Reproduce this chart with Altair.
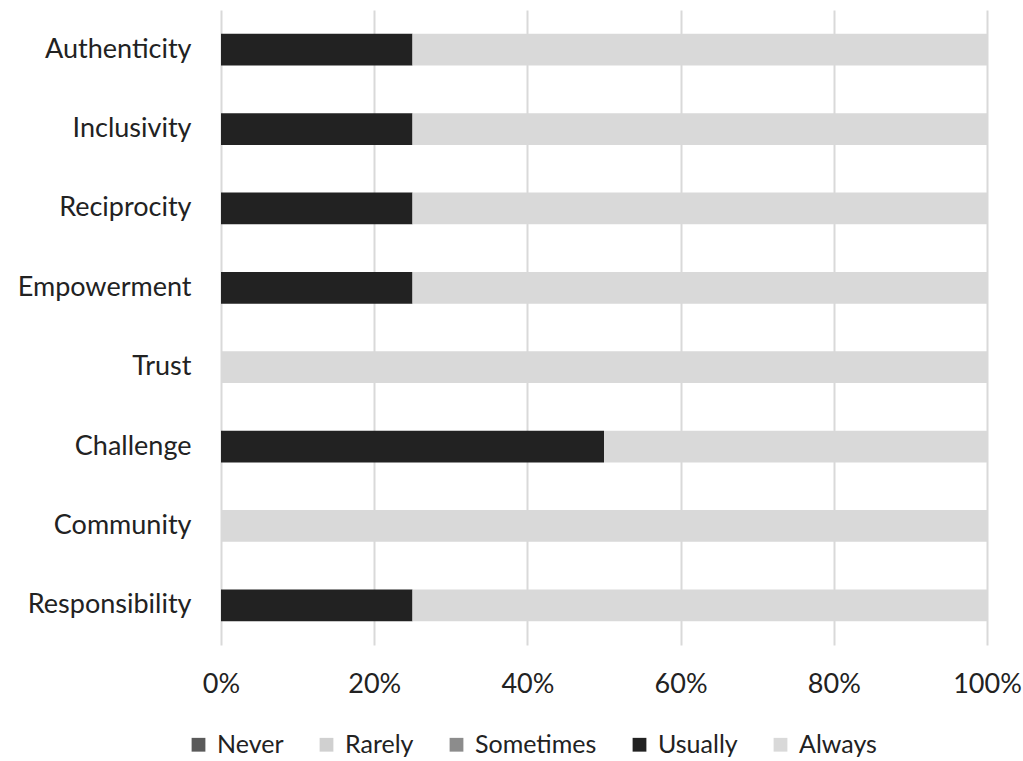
import altair as alt
import pandas as pd

categories = ["Authenticity", "Inclusivity", "Reciprocity", "Empowerment",
              "Trust", "Challenge", "Community", "Responsibility"]
levels = ["Never", "Rarely", "Sometimes", "Usually", "Always"]
never = [0, 0, 0, 0, 0, 0, 0, 0]
rarely = [0, 0, 0, 0, 0, 0, 0, 0]
sometimes = [0, 0, 0, 0, 0, 0, 0, 0]
usually = [0.25, 0.25, 0.25, 0.25, 0.0, 0.50, 0.0, 0.25]
always = [0.75, 0.75, 0.75, 0.75, 1.0, 0.50, 1.0, 0.75]
colors = ["#5a5a5a", "#d0d0d0", "#8c8c8c", "#222222", "#d9d9d9"]

series = [never, rarely, sometimes, usually, always]
rows = []
for li, (lvl, vals) in enumerate(zip(levels, series)):
    for c, v in zip(categories, vals):
        rows.append({"category": c, "level": lvl, "order": li, "value": v})
df = pd.DataFrame(rows)

FONT = "Lato"
FS = 27

chart = alt.Chart(df).mark_bar().encode(
    y=alt.Y("category:N", sort=categories, title=None,
            scale=alt.Scale(paddingInner=0.6, paddingOuter=0.3),
            axis=alt.Axis(ticks=False, domain=False, grid=False,
                          labelFontSize=FS, labelFont=FONT, labelColor="#222222",
                          labelPadding=30)),
    x=alt.X("value:Q", stack="zero", title=None,
            scale=alt.Scale(domain=[0, 1], nice=False),
            axis=alt.Axis(format=".0%", values=[0, 0.2, 0.4, 0.6, 0.8, 1.0],
                          ticks=False, domain=False, grid=True, labelFlush=False,
                          gridColor="#d9d9d9", gridWidth=2,
                          labelFontSize=FS, labelFont=FONT, labelColor="#222222",
                          labelPadding=26)),
    color=alt.Color("level:N", sort=levels,
                    scale=alt.Scale(domain=levels, range=colors),
                    legend=alt.Legend(title=None, orient="none", direction="horizontal",
                                      legendX=-35, legendY=722,
                                      symbolType="square", symbolSize=190,
                                      symbolStrokeWidth=0,
                                      labelFont=FONT, labelFontSize=25,
                                      labelColor="#222222", columnPadding=30,
                                      labelOffset=6)),
    order=alt.Order("order:Q"),
).properties(
    width=766, height=635,
    autosize=alt.AutoSizeParams(type="none"),
    padding={"left": 221, "top": 10, "right": 36, "bottom": 116},
).configure(background="white", view=alt.ViewConfig(stroke=None))

chart.save("out.html", embed_options={"renderer": "svg", "actions": False})
